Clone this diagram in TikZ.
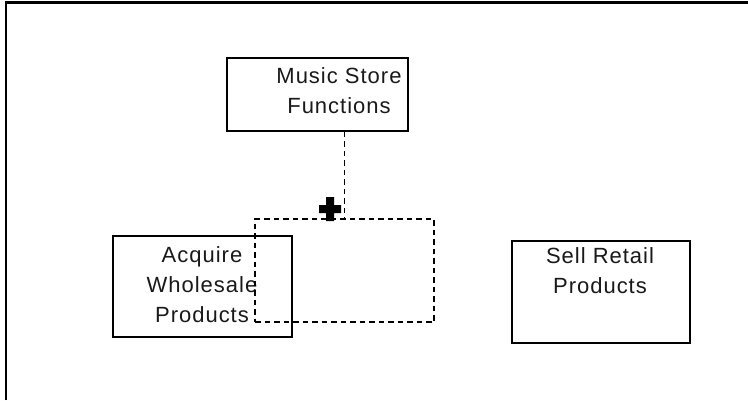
\documentclass[tikz,border=0pt]{standalone}
\usepackage{fontspec}
\newfontfamily\boxfont[LetterSpace=4.5]{Liberation Sans}

\begin{document}
\begin{tikzpicture}[x=1pt,y=-1pt,
  fnbox/.style={draw, line width=1.6pt, inner sep=0pt},
  fntext/.style={font=\boxfont\fontsize{22}{30}\selectfont, align=center, inner sep=0pt, text=black!90},
  dragline/.style={line width=1.5pt, dash pattern=on 5.5pt off 4pt}]
\useasboundingbox (0,0) rectangle (748,400);
% frame (only top and left edges show)
\draw[line width=2.4pt] (6,400) -- (6,2.5) -- (748,2.5);
% function boxes: name/centre x/centre y/width/height
\foreach \name/\cx/\cy/\w/\h in {music/317.5/94.5/181/73,
  acquire/202.5/286.5/179/101, sell/601/292/178/102} {
  \node[fnbox, minimum width=\w pt, minimum height=\h pt] (\name) at (\cx,\cy) {};
}
% box texts
\node[fntext] (musictext) at (339,91) {Music Store\\Functions};
\node[fntext] (acquiretext) at (202,285) {Acquire\\Wholesale\\Products};
\node[fntext] (selltext) at (600,271) {Sell Retail\\Products};
% dragged outline and its link
\node[draw, dragline, inner sep=0pt, minimum width=179pt, minimum height=103pt]
  (drag) at (344.5,270.5) {};
\draw[dragline] (drag.north |- music.south) -- (drag.north);
% move cursor
\coordinate (plus) at (330,209);
\fill[shift={(plus)}] (-11,-4) rectangle (11,4) (-4,-12) rectangle (4,12);
\end{tikzpicture}
\end{document}
